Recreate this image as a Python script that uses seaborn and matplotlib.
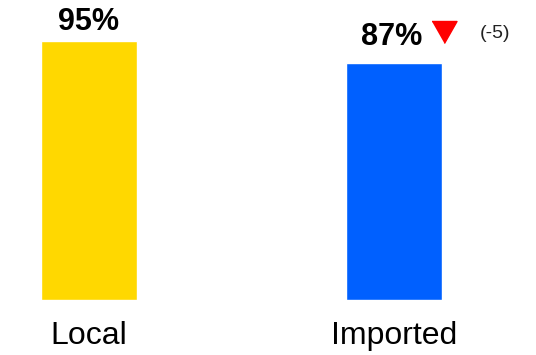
import matplotlib
matplotlib.use("Agg")
import matplotlib.pyplot as plt
from matplotlib.transforms import offset_copy
import seaborn as sns
import pandas as pd

categories = ["Local", "Imported"]
values = [95, 87]
value_labels = ["95%", "87%"]
changes = [None, "(-5)"]
bar_colors = ["#FFD800", "#0060FF"]

sns.set_theme(style="white")
plt.rcParams["font.family"] = ["Liberation Sans", "DejaVu Sans"]

df = pd.DataFrame({"category": categories, "value": values})

fig = plt.figure(figsize=(5.36, 3.55), dpi=100)
ax = fig.add_axes([0, 55 / 355, 1, 300 / 355])

sns.barplot(data=df, x="category", y="value", hue="category",
            palette=bar_colors, width=96 / 305, saturation=1,
            legend=False, ax=ax)

ax.set_xlim(-89 / 305, (536 - 89) / 305)
ax.set_ylim(0, 300 / 2.726)
ax.set_xlabel("")
ax.set_ylabel("")
ax.set_yticks([])
for s in ax.spines.values():
    s.set_visible(False)
ax.tick_params(axis="x", length=0, pad=15, labelsize=23, labelcolor="black")

offsets = [8, 13]
for i, (v, lab) in enumerate(zip(values, value_labels)):
    ax.annotate(lab, xy=(i, v), xytext=(-1.5 if changes[i] else 0, offsets[i]),
                textcoords="offset points", ha="center", va="baseline",
                fontsize=22, fontweight="bold", color="black")
    if changes[i]:
        tr = offset_copy(ax.transData, fig=fig, x=36, y=22, units="points")
        ax.plot([i], [v], transform=tr, marker=[(-12.5, 11), (12.5, 11), (0, -11)],
                markersize=18, color="#FF0000", linestyle="none", clip_on=False)
        ax.annotate(changes[i], xy=(i, v), xytext=(72.5, 18),
                    textcoords="offset points", ha="center", va="baseline",
                    fontsize=14, color="#222222")

fig.savefig("out.png", dpi=100)
